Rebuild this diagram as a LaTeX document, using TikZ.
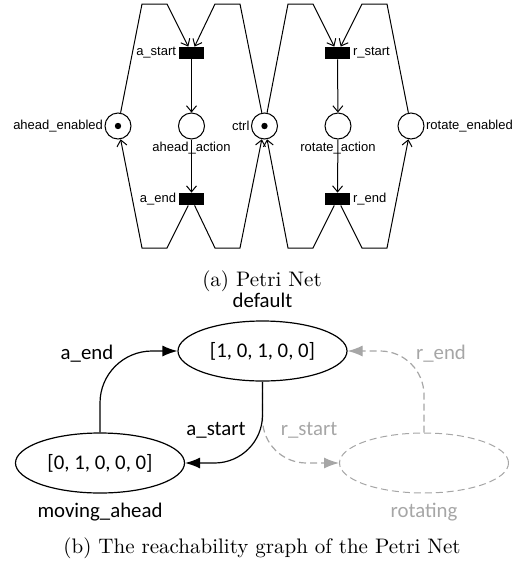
\documentclass[tikz,border=0pt]{standalone}
\usepackage{fontspec}
\newfontfamily\pnfont{Liberation Sans}
\newfontfamily\graphfont{Carlito}
\usetikzlibrary{arrows.meta}
\usetikzlibrary{shapes.geometric}
\usetikzlibrary{positioning}
\definecolor{lightgrey}{RGB}{166,166,166}

\tikzset{
	% petri net
	place/.style={circle, draw, line width=0.5pt, minimum size=13pt, inner sep=0pt},
	transition/.style={rectangle, fill=black, minimum width=12.5pt, minimum height=6pt, inner sep=0pt},
	pnlabel/.style={font=\pnfont\fontsize{6.5}{7}\selectfont, inner sep=0.6pt},
	pnarc/.style={line width=0.5pt, -{Straight Barb[length=3pt,width=5pt]}},
	% reachability graph
	state/.style={ellipse, draw, line width=0.6pt, minimum width=84.5pt, minimum height=30pt, inner sep=0pt, font=\graphfont\fontsize{10.4}{12}\selectfont},
	gtext/.style={font=\graphfont\fontsize{10.4}{12}\selectfont, anchor=base, inner sep=0pt},
	gedge/.style={line width=0.6pt, -{Latex[length=7.5pt,width=5.5pt]}},
	ghost/.style={lightgrey, dash pattern=on 3.5pt off 2pt},
	captiontext/.style={font=\fontsize{10.5}{12}\selectfont, anchor=base, inner sep=0pt}
}

\begin{document}
\begin{tikzpicture}[x=0.5pt, y=-0.5pt]
	\useasboundingbox (0,0) rectangle (518,563);

	% places and transitions
	\node[place] (ahead_enabled) at (118,126) {};
	\node[place] (ahead_action) at (191.5,126) {};
	\node[place] (ctrl) at (264.5,126) {};
	\node[place] (rotate_action) at (338,126) {};
	\node[place] (rotate_enabled) at (411,126) {};
	\node[transition] (a_start) at (191.5,53) {};
	\node[transition] (a_end) at (191.5,199) {};
	\node[transition] (r_start) at (337.5,53) {};
	\node[transition] (r_end) at (337.5,199) {};

	% tokens
	\fill (ahead_enabled) circle (1.6pt);
	\fill (ctrl) circle (1.6pt);

	% labels
	\node[pnlabel, left=0pt of ahead_enabled] {ahead\_enabled};
	\node[pnlabel, left=0pt of ctrl] {ctrl};
	\node[pnlabel, right=0pt of rotate_enabled] {rotate\_enabled};
	\node[pnlabel, below=0.6pt of ahead_action] {ahead\_action};
	\node[pnlabel, below=0.6pt of rotate_action] {rotate\_action};
	\node[pnlabel, left=0.5pt of a_start] {a\_start};
	\node[pnlabel, left=0.5pt of a_end] {a\_end};
	\node[pnlabel, right=0.5pt of r_start] {r\_start};
	\node[pnlabel, right=0.5pt of r_end] {r\_end};

	% arcs: straight through
	\draw[pnarc] (a_start) -- (ahead_action);
	\draw[pnarc] (ahead_action) -- (a_end);
	\draw[pnarc] (r_start) -- (rotate_action);
	\draw[pnarc] (rotate_action) -- (r_end);

	% arcs: around the top
	\draw[pnarc] (ahead_enabled) -- (142,4) -- (167,4) -- (a_start);
	\draw[pnarc] (ctrl) -- (240,4) -- (215,4) -- (a_start);
	\draw[pnarc] (ctrl) -- (288,4) -- (313,4) -- (r_start);
	\draw[pnarc] (rotate_enabled) -- (387,4) -- (362,4) -- (r_start);

	% arcs: around the bottom
	\draw[pnarc] (a_end) -- (167,248) -- (142,248) -- (ahead_enabled);
	\draw[pnarc] (a_end) -- (215,248) -- (240,248) -- (ctrl);
	\draw[pnarc] (r_end) -- (313,248) -- (288,248) -- (ctrl);
	\draw[pnarc] (r_end) -- (362,248) -- (387,248) -- (rotate_enabled);

	\node[captiontext] (cap_a) at (262,286) {(a) Petri Net};

	% reachability graph
	\node[state] (default) at (262.5,351) {[1, 0, 1, 0, 0]};
	\node[state] (moving) at (100,463) {[0, 1, 0, 0, 0]};
	\node[state, ghost, line width=0.5pt] (rotating) at (424,463) {};

	\node[gtext] (default_name) at (262.5,307) {default};
	\node[gtext] (moving_name) at (100,517) {moving\_ahead};
	\node[gtext, lightgrey] (rotating_name) at (424,517) {rotating};

	\draw[gedge, ghost, rounded corners=22pt] (default.south) |- (rotating.west);
	\draw[gedge, ghost, rounded corners=22pt] (rotating.north) |- (default.east);
	\draw[gedge, rounded corners=26pt] (moving.north) |- (default.west);
	\draw[gedge, rounded corners=24pt] (default.south) |- (moving.east);

	\node[gtext] (a_end_name) at (87,359) {a\_end};
	\node[gtext] (a_start_name) at (216,435) {a\_start};
	\node[gtext, lightgrey] (r_start_name) at (309,435) {r\_start};
	\node[gtext, lightgrey] (r_end_name) at (441,359) {r\_end};

	\node[captiontext] (cap_b) at (262,553) {(b) The reachability graph of the Petri Net};
\end{tikzpicture}
\end{document}
